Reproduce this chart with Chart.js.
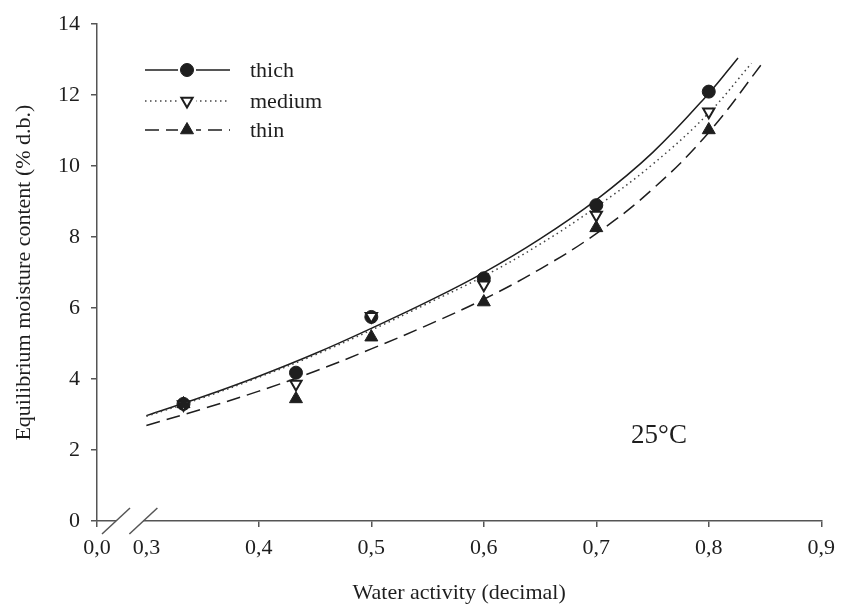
<!DOCTYPE html>
<html><head><meta charset="utf-8">
<script src="https://cdn.jsdelivr.net/npm/chart.js@4.4.0/dist/chart.umd.min.js"></script>
<style>html,body{margin:0;padding:0;background:#fff;}#wrap{width:843px;height:608px;position:relative;}</style>
</head><body><div id="wrap"><canvas id="c" width="843" height="608"></canvas></div>
<script>
// measured points
const waterActivity = [0.333, 0.433, 0.5, 0.6, 0.7, 0.8];
const thichValues  = [3.30, 4.18, 5.75, 6.84, 8.90, 12.10];
const mediumValues = [3.28, 3.86, 5.77, 6.66, 8.62, 11.53];
const thinValues   = [3.30, 3.44, 5.18, 6.17, 8.26, 11.02];
// fitted curves
const thichCurveX  = [0.30,0.35,0.40,0.45,0.50,0.55,0.60,0.65,0.70,0.75,0.80,0.826];
const thichCurveY  = [2.97,3.50,4.08,4.72,5.43,6.18,7.00,7.95,9.05,10.38,12.05,13.05];
const mediumCurveX = [0.30,0.35,0.40,0.45,0.50,0.55,0.60,0.65,0.70,0.75,0.80,0.838];
const mediumCurveY = [2.95,3.47,4.05,4.68,5.38,6.13,6.90,7.80,8.85,10.05,11.50,12.90];
const thinCurveX   = [0.30,0.35,0.40,0.45,0.50,0.55,0.60,0.65,0.70,0.75,0.80,0.85];
const thinCurveY   = [2.69,3.16,3.66,4.22,4.85,5.52,6.25,7.10,8.10,9.35,10.95,13.00];
const seriesNames = ['thich', 'medium', 'thin'];
// axis ticks (first x tick stands for 0,0 before the axis break)
const xTickValues = [0.2561, 0.3, 0.4, 0.5, 0.6, 0.7, 0.8, 0.9];
const xTickLabels = ['0,0', '0,3', '0,4', '0,5', '0,6', '0,7', '0,8', '0,9'];
const yTickValues = [0, 2, 4, 6, 8, 10, 12, 14];
const xTitle = 'Water activity (decimal)';
const yTitle = 'Equilibrium moisture content (% d.b.)';
const tempLabel = '25°C';

const INK = '#1e1e1e';
const AXIS = '#555';
const FONT = '"Liberation Serif", "Times New Roman", serif';
const pts = (xs, ys) => xs.map((x, i) => ({x, y: ys[i]}));

const markerStyles = [
  {pointStyle: 'circle', radius: 6.5, bg: INK, rot: 0},
  {pointStyle: 'triangle', radius: 6.5, bg: '#fff', rot: 180},
  {pointStyle: 'triangle', radius: 7.5, bg: INK, rot: 0}
];
const dashes = [[], [1.5, 3.5], [14, 7]];

const datasets = [
  {label: 'thich curve', data: pts(thichCurveX, thichCurveY), showLine: true, pointRadius: 0, borderColor: INK, borderWidth: 1.5, borderDash: dashes[0], tension: 0.4, order: 6},
  {label: 'medium curve', data: pts(mediumCurveX, mediumCurveY), showLine: true, pointRadius: 0, borderColor: '#444', borderWidth: 1.5, borderDash: dashes[1], tension: 0.4, order: 5},
  {label: 'thin curve', data: pts(thinCurveX, thinCurveY), showLine: true, pointRadius: 0, borderColor: INK, borderWidth: 1.5, borderDash: dashes[2], tension: 0.4, order: 4},
  {label: seriesNames[0], data: pts(waterActivity, thichValues), showLine: false, pointStyle: 'circle', pointRadius: 6.5, pointBackgroundColor: INK, pointBorderColor: INK, pointBorderWidth: 1, order: 3},
  {label: seriesNames[1], data: pts(waterActivity, mediumValues), showLine: false, pointStyle: 'triangle', pointRotation: 180, pointRadius: 6.5, pointBackgroundColor: '#fff', pointBorderColor: INK, pointBorderWidth: 2, order: 2},
  {label: seriesNames[2], data: pts(waterActivity, thinValues), showLine: false, pointStyle: 'triangle', pointRadius: 7.5, pointBackgroundColor: INK, pointBorderColor: INK, pointBorderWidth: 1, order: 1}
];

const legendPlugin = {
  id: 'customLegend',
  afterDraw(chart) {
    const ctx = chart.ctx;
    const rows = [70, 101, 130];
    const x0 = 145, x1 = 230, xm = 187, xt = 250;
    ctx.save();
    rows.forEach((y, i) => {
      ctx.strokeStyle = i === 1 ? '#444' : INK;
      ctx.lineWidth = 1.5;
      ctx.setLineDash(dashes[i]);
      ctx.beginPath(); ctx.moveTo(x0, y); ctx.lineTo(x1, y); ctx.stroke();
      ctx.setLineDash([]);
      const m = markerStyles[i];
      ctx.fillStyle = '#fff';
      ctx.fillRect(xm - 9, y - 9, 18, 18);
      ctx.fillStyle = m.bg; ctx.strokeStyle = INK; ctx.lineWidth = i === 1 ? 2 : 1;
      Chart.helpers.drawPoint(ctx, {pointStyle: m.pointStyle, radius: m.radius, rotation: m.rot, borderWidth: ctx.lineWidth}, xm, y);
      ctx.fillStyle = INK;
      ctx.font = '22px ' + FONT;
      ctx.textBaseline = 'middle'; ctx.textAlign = 'left';
      ctx.fillText(seriesNames[i], xt, y + 1);
    });
    ctx.font = '27px ' + FONT;
    ctx.textAlign = 'center';
    ctx.fillText(tempLabel, 659, 436);
    ctx.restore();
  }
};

const breakPlugin = {
  id: 'axisBreak',
  afterDraw(chart) {
    const ctx = chart.ctx;
    const xs = chart.scales.x;
    const y = chart.chartArea.bottom;
    const xL = xs.getPixelForValue(xTickValues[0]);
    const xR = xs.getPixelForValue(xTickValues[1]);
    const c1 = xL + 19, c2 = xR - 3;
    ctx.save();
    ctx.fillStyle = '#fff';
    ctx.fillRect(c1, y - 3, c2 - c1, 6);
    ctx.strokeStyle = AXIS; ctx.lineWidth = 1.5;
    [c1, c2].forEach(c => {
      ctx.beginPath(); ctx.moveTo(c - 14, y + 13); ctx.lineTo(c + 14, y - 13); ctx.stroke();
    });
    ctx.restore();
  }
};

new Chart(document.getElementById('c'), {
  type: 'scatter',
  data: {datasets},
  options: {
    responsive: false,
    animation: false,
    layout: {padding: {top: 21, right: 20, left: 0, bottom: 0}},
    plugins: {legend: {display: false}, tooltip: {enabled: false}},
    scales: {
      x: {
        type: 'linear', min: xTickValues[0], max: 0.9,
        afterBuildTicks: s => { s.ticks = xTickValues.map(v => ({value: v})); },
        afterFit: s => { s.height = 87; },
        ticks: {autoSkip: false, maxRotation: 0, padding: 8, color: INK, font: {family: FONT, size: 22},
          callback: (v, i) => xTickLabels[i]},
        grid: {drawOnChartArea: false, drawTicks: true, tickLength: 6, lineWidth: 1.5,
          color: AXIS, tickColor: c => (c.tick && c.tick.value === 0.3) ? 'rgba(0,0,0,0)' : AXIS},
        border: {display: true, color: AXIS, width: 1.5},
        title: {display: true, text: xTitle, color: INK, font: {family: FONT, size: 22}, padding: {top: 0, bottom: 2}}
      },
      y: {
        type: 'linear', min: 0, max: 14,
        afterBuildTicks: s => { s.ticks = yTickValues.map(v => ({value: v})); },
        afterFit: s => { s.width = 97; },
        ticks: {padding: 11, color: INK, font: {family: FONT, size: 22}},
        grid: {drawOnChartArea: false, drawTicks: true, tickLength: 6, lineWidth: 1.5, color: AXIS, tickColor: AXIS},
        border: {display: true, color: AXIS, width: 1.5},
        title: {display: true, text: yTitle, color: INK, font: {family: FONT, size: 22}, padding: {top: 11, bottom: 0}}
      }
    }
  },
  plugins: [legendPlugin, breakPlugin]
});
</script></body></html>
